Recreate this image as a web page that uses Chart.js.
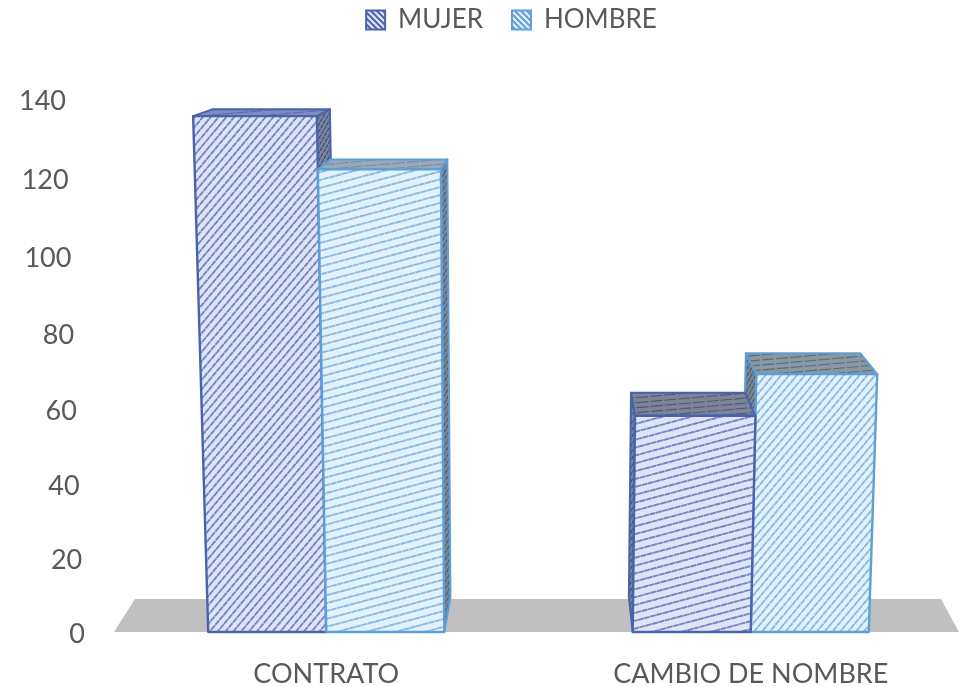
<!DOCTYPE html>
<html><head><meta charset="utf-8">
<style>html,body{margin:0;padding:0;background:#fff;overflow:hidden}#w{width:960px;height:687px;position:relative;overflow:hidden}canvas{display:block}</style>
<script src="https://cdn.jsdelivr.net/npm/chart.js@4"></script>
</head><body><div id="w"><canvas id="c" width="963" height="687"></canvas></div>
<script>
const categories = ["CONTRATO", "CAMBIO DE NOMBRE"];
const mujer = [136, 57];
const hombre = [122, 68];
const yTicks = [0, 20, 40, 60, 80, 100, 120, 140];

const FONT = "Lato";
const TEXT = "#595959";
// perspective of the 3D look
const VX = 520, BACK_VX = 560, HORIZON = -15, DEPTH = 0.0536, LEAN = 9.4e-5;
const STEEP = -50, SHALLOW = -15;
const styles = [
 { edge:"#4a63ab", bg:"#dfe4f7", line:"#7385c6", angles:[STEEP, SHALLOW],
   top:["#7c8cbc","#7d8499"], topLine:["#5d6ea6","#4f5870"], side:"#7a85a6", sideLine:"#46506f" },
 { edge:"#5f9fd6", bg:"#e2f1fc", line:"#86bae3", angles:[SHALLOW, STEEP],
   top:["#97a9ba","#8a98a3"], topLine:["#7a8c9d","#5c6a75"], side:"#78879a", sideLine:"#4f5b67" }
];
const tickNudge = {0:2, 20:4, 40:6, 60:7, 80:7, 100:5.5, 120:3, 140:0};

function poly(ctx, pts){ ctx.beginPath(); pts.forEach((p,i)=> i?ctx.lineTo(p[0],p[1]):ctx.moveTo(p[0],p[1])); ctx.closePath(); }
function hatch(ctx, pts, bg, color, angle, gap, width, dash){
  ctx.save(); poly(ctx,pts); ctx.clip();
  ctx.fillStyle = bg; ctx.fill();
  const xs = pts.map(p=>p[0]), ys = pts.map(p=>p[1]);
  const cx = (Math.min(...xs)+Math.max(...xs))/2, cy = (Math.min(...ys)+Math.max(...ys))/2;
  const r = Math.hypot(Math.max(...xs)-Math.min(...xs), Math.max(...ys)-Math.min(...ys));
  ctx.translate(cx,cy); ctx.rotate(angle*Math.PI/180);
  ctx.strokeStyle = color; ctx.lineWidth = width; ctx.setLineDash(dash);
  for(let o=-r; o<=r; o+=gap){ ctx.beginPath(); ctx.moveTo(-r,o); ctx.lineTo(r,o); ctx.stroke(); }
  ctx.restore();
}
function paintBar(ctx, bar, ds, idx){
  const s = styles[ds];
  const l = bar.x-bar.width/2, r = bar.x+bar.width/2, y = bar.y, b = bar.base, h = b-y;
  const topX = x => VX+(x-VX)*(1+LEAN*h);
  const backX = x => x+(BACK_VX-x)*DEPTH;
  const backY = v => v+(HORIZON-v)*DEPTH;
  const tl=[topX(l),y], tr=[topX(r),y], bl=[l,b], br=[r,b];
  const btl=[backX(tl[0]),backY(y)], btr=[backX(tr[0]),backY(y)];
  const side = bar.x<BACK_VX
    ? [tr,btr,[backX(r),backY(b)],br]
    : [tl,btl,[backX(l),backY(b)],bl];
  hatch(ctx,side,s.side,s.sideLine,-60,3.6,1.3,[4,1]);
  ctx.strokeStyle=s.edge; ctx.lineWidth=2; ctx.lineJoin="round"; poly(ctx,side); ctx.stroke();
  const top=[tl,btl,btr,tr];
  hatch(ctx,top,s.top[idx],s.topLine[idx],-5,5,1.1,[12,2]);
  poly(ctx,top); ctx.stroke();
  const front=[tl,tr,br,bl];
  hatch(ctx,front,s.bg,s.line,s.angles[idx],s.angles[idx]===STEEP?6:7.6,1.9,[6,0.5]);
  ctx.strokeStyle=s.edge; ctx.lineWidth=2.4; poly(ctx,front); ctx.stroke();
}
function legendPattern(edge, bg, line){
  const c=document.createElement("canvas"); c.width=c.height=6;
  const g=c.getContext("2d"); g.fillStyle=bg; g.fillRect(0,0,6,6);
  g.strokeStyle=line; g.lineWidth=2;
  [[-3,-3,9,9],[-3,3,3,9],[3,-3,9,3]].forEach(a=>{g.beginPath();g.moveTo(a[0],a[1]);g.lineTo(a[2],a[3]);g.stroke();});
  return g.createPattern(c,"repeat");
}
const solidFloor = "#c0c0c0";
const plugin3d = {
  id:"look3d",
  beforeLayout(chart){
    const lg=chart.legend;
    if(lg && !lg._patched){ const f=lg.fit; lg.fit=function(){ f.call(this); this.height=123; }; lg._patched=true; }
  },
  afterLayout(chart){
    const lg=chart.legend; lg.left+=30; lg.right+=30;
  },
  beforeDraw(chart){
    const sc=chart.scales.y, items=sc.getLabelItems();
    if(!items._done){
      items.forEach(it=>{
        const v=Number(it.label);
        it.options.translation[0]=85-v*0.136;
        it.options.translation[1]+=tickNudge[v]||0;
        it.options.textAlign="right";
      });
      items._done=true;
    }
  },
  beforeDatasetsDraw(chart){
    const {ctx,chartArea:a}=chart, y0=chart.scales.y.getPixelForValue(0);
    ctx.save(); ctx.fillStyle=solidFloor;
    poly(ctx,[[a.left,y0],[a.left+21,y0-33],[a.right-22,y0-33],[a.right-4,y0]]); ctx.fill(); ctx.restore();
  },
  beforeDatasetDraw(){ return false; },
  afterDatasetsDraw(chart){
    const {ctx}=chart, list=[];
    [0,1].forEach(d=>chart.getDatasetMeta(d).data.forEach((bar,i)=>list.push({bar,d,i})));
    list.sort((p,q)=>Math.abs(q.bar.x-BACK_VX+40)-Math.abs(p.bar.x-BACK_VX+40));
    ctx.save(); list.forEach(o=>paintBar(ctx,o.bar,o.d,o.i)); ctx.restore();
  }
};
new Chart(document.getElementById("c"),{
  type:"bar",
  data:{labels:categories,datasets:[
    {label:"MUJER",data:mujer,backgroundColor:"#dfe4f7",borderColor:"#4a63ab",borderWidth:2},
    {label:"HOMBRE",data:hombre,backgroundColor:"#e2f1fc",borderColor:"#5f9fd6",borderWidth:2}
  ]},
  options:{
    responsive:false,animation:false,
    layout:{padding:{top:-22,right:0,bottom:0,left:0}},
    categoryPercentage:0.556,barPercentage:1,
    plugins:{
      tooltip:{enabled:false},
      legend:{position:"top",labels:{
        font:{family:FONT,size:26},color:TEXT,boxWidth:19,boxHeight:19,padding:29,
        generateLabels(chart){
          return chart.data.datasets.map((d,i)=>({
            text:d.label,fontColor:TEXT,datasetIndex:i,
            fillStyle:legendPattern(d.borderColor,d.backgroundColor,d.borderColor),
            strokeStyle:d.borderColor,lineWidth:2
          }));
        }
      }}
    },
    scales:{
      x:{grid:{display:false},border:{display:false},
         ticks:{font:{family:FONT,size:27},color:TEXT,padding:18,maxRotation:0},
         afterFit(s){s.height=55;}},
      y:{min:0,max:140,grid:{display:false},border:{display:false},
         afterBuildTicks(s){s.ticks=yTicks.map(v=>({value:v}));},
         ticks:{font:{family:FONT,size:27},color:TEXT},
         afterFit(s){s.width=114;}}
    }
  },
  plugins:[plugin3d]
});
</script></body></html>
